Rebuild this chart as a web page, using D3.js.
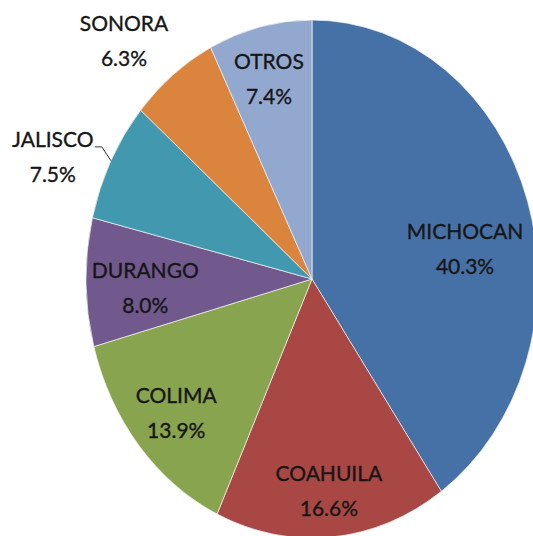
<!DOCTYPE html>
<html>
<head>
<meta charset="utf-8">
<script src="https://cdn.jsdelivr.net/npm/d3@7"></script>
<style>
  body { margin: 0; background: #fff; }
  text { font-family: Lato, "Open Sans", sans-serif; font-size: 21px; fill: #161616; stroke: #161616; stroke-width: 0.35px; }
</style>
</head>
<body>
<div id="chart"></div>
<script>
// data
var states = ["MICHOCAN", "COAHUILA", "COLIMA", "DURANGO", "JALISCO", "SONORA", "OTROS"];
var shares = [40.3, 16.6, 13.9, 8.0, 7.5, 6.3, 7.4];
var colors = ["#4671a6", "#a94744", "#89a44f", "#71598e", "#4298ae", "#da843e", "#93a8ce"];

var w = 533, h = 536;
var cx = 312, cy = 279, rx = 226, ry = 259;

// label placement (fraction of radius, angle nudge in degrees), excel "best fit"
var labelR = [0.683, 0.85, 0.81, 0.74, 1.23, 1.22, 0.77];
var labelNudge = [10, 0, -2, -4, -6, -5, -1];

var data = states.map((s, i) => ({key: s, value: shares[i]}));

var svg = d3.select("#chart")
    .append("svg")
        .attr("width", w)
        .attr("height", h);

var pie = d3.pie()
    .value(d => d.value)
    .sort(null);

var arcs = pie(data);

var arc = d3.arc()
    .innerRadius(0)
    .outerRadius(rx);

// pie drawn round and stretched vertically, like the source
var g = svg.append("g")
    .attr("transform", "translate(" + cx + "," + cy + ") scale(1," + (ry / rx) + ")");

g.selectAll("path")
    .data(arcs)
    .enter()
    .append("path")
    .attr("d", arc)
    .attr("fill", (d, i) => colors[i])
    .attr("stroke", "#f4f4f4")
    .attr("stroke-width", 0.7)
    .attr("vector-effect", "non-scaling-stroke");

function polar(a, r) {
    return [cx + Math.sin(a) * r * rx, cy - Math.cos(a) * r * ry];
}

var labels = svg.append("g");

arcs.forEach(function (d, i) {
    var mid = (d.startAngle + d.endAngle) / 2 + labelNudge[i] * Math.PI / 180;
    var p = polar(mid, labelR[i]);
    var t = labels.append("text")
        .attr("text-anchor", "middle")
        .attr("x", p[0])
        .attr("y", p[1] - 17);
    t.append("tspan").attr("x", p[0]).text(d.data.key);
    t.append("tspan").attr("x", p[0]).attr("dy", 35).text(d.data.value.toFixed(1) + "%");
});

// leader line for JALISCO
var jal = arcs[4];
var jmid = (jal.startAngle + jal.endAngle) / 2;
var edge = polar(jmid, 1.0);
var jl = polar(jmid + labelNudge[4] * Math.PI / 180, labelR[4]);
svg.append("polyline")
    .attr("points", [[jl[0] + 42, jl[1] - 17], [jl[0] + 49, jl[1] - 17], edge].map(p => p.join(",")).join(" "))
    .attr("fill", "none")
    .attr("stroke", "#333")
    .attr("stroke-width", 1);
</script>
</body>
</html>
